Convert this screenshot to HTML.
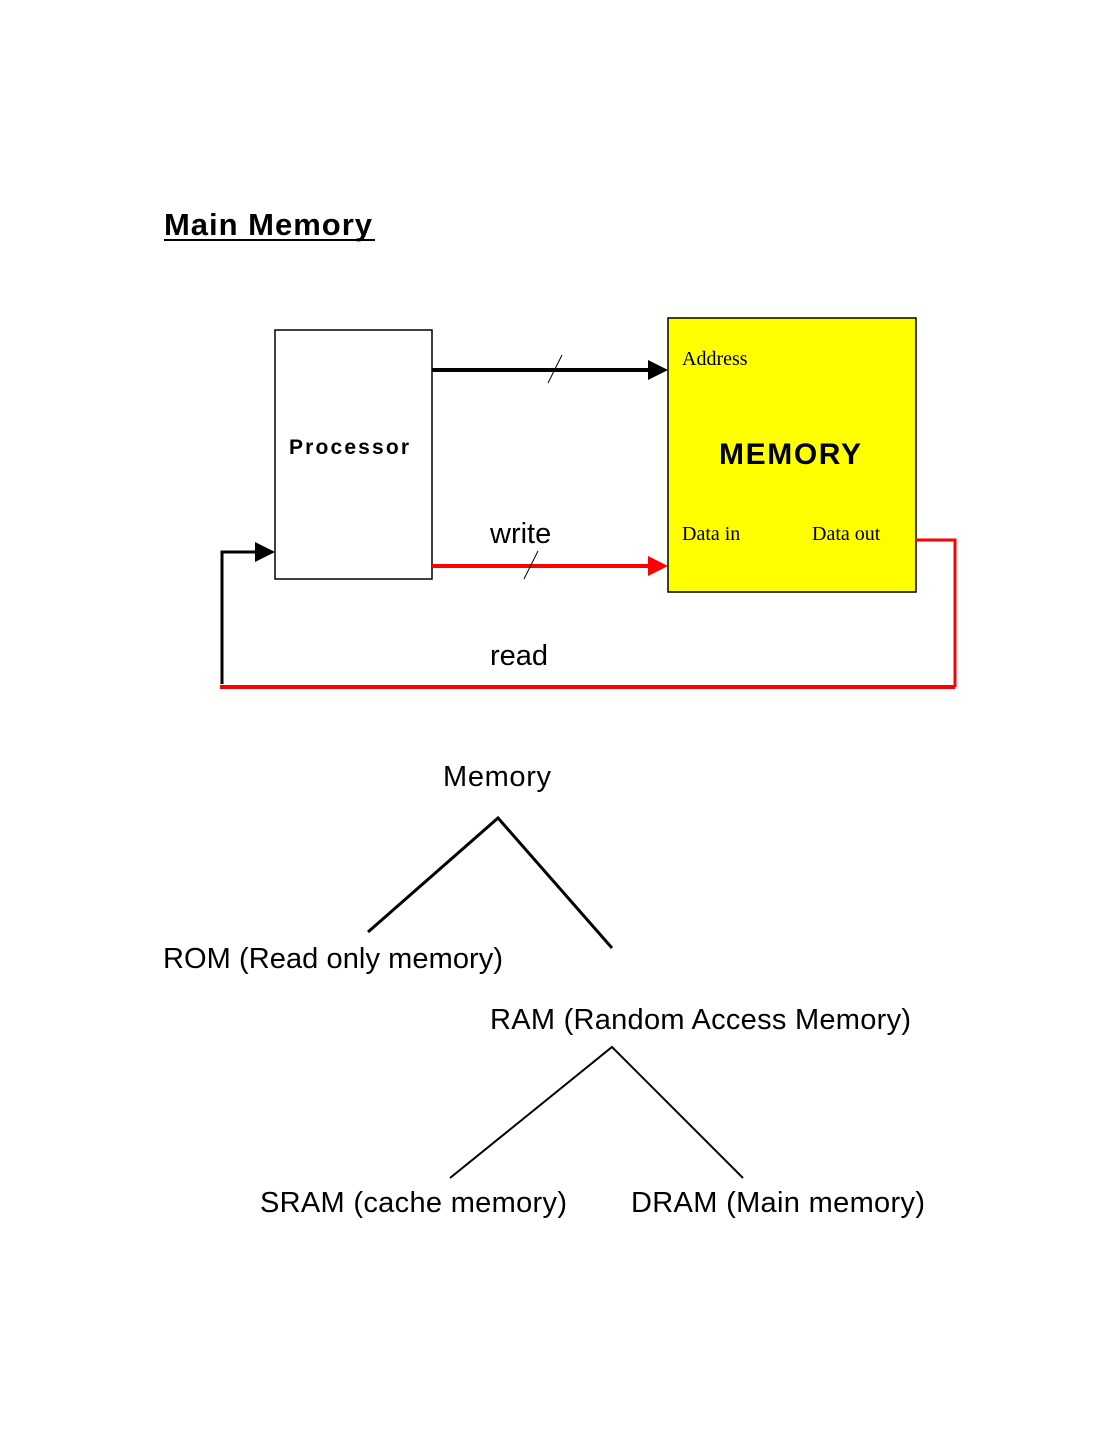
<!DOCTYPE html>
<html><head><style>
body{margin:0;background:#fff;}
svg{display:block}
.c{font-family:"Liberation Sans",sans-serif;font-size:29px;fill:#000}
</style></head><body>
<svg width="1113" height="1440" viewBox="0 0 1113 1440">
<text x="164" y="235" class="c" style="font-weight:bold;font-size:31px" textLength="208">Main Memory</text>
<line x1="164" y1="240" x2="375" y2="240" stroke="#000" stroke-width="2"/>
<rect x="275" y="330" width="157" height="249" fill="#fff" stroke="#000" stroke-width="1.5"/>
<text x="349" y="454" text-anchor="middle" font-family="Liberation Sans" font-weight="bold" font-size="21" textLength="120">Processor</text>
<rect x="668" y="318" width="248" height="274" fill="#ffff00" stroke="#000" stroke-width="1.5"/>
<text x="682" y="365" font-family="Liberation Serif" font-size="20">Address</text>
<text x="790" y="464" text-anchor="middle" font-family="Liberation Sans" font-weight="bold" font-size="30" textLength="142">MEMORY</text>
<text x="682" y="540" font-family="Liberation Serif" font-size="20">Data in</text>
<text x="812" y="540" font-family="Liberation Serif" font-size="20">Data out</text>
<line x1="432" y1="370" x2="650" y2="370" stroke="#000" stroke-width="4"/>
<polygon points="648,360 668,370 648,380" fill="#000"/>
<line x1="548" y1="383" x2="562" y2="355" stroke="#000" stroke-width="1"/>
<line x1="432" y1="566" x2="650" y2="566" stroke="#f00" stroke-width="4"/>
<polygon points="648,556 668,566 648,576" fill="#f00"/>
<line x1="524" y1="579" x2="538" y2="551" stroke="#000" stroke-width="1"/>
<text x="490" y="543" class="c">write</text>
<text x="490" y="665" class="c">read</text>
<polyline points="916,540 955,540 955,687" fill="none" stroke="#f00" stroke-width="3"/>
<line x1="220" y1="687" x2="955" y2="687" stroke="#f00" stroke-width="4"/>
<polyline points="222,684 222,552 257,552" fill="none" stroke="#000" stroke-width="3"/>
<polygon points="255,542 275,552 255,562" fill="#000"/>
<text x="443" y="786" class="c" textLength="108">Memory</text>
<polyline points="368,932 498,818 612,948" fill="none" stroke="#000" stroke-width="3"/>
<text x="163" y="968" class="c" textLength="340">ROM (Read only memory)</text>
<text x="490" y="1029" class="c" textLength="421">RAM (Random Access Memory)</text>
<polyline points="450,1178 612,1047 743,1178" fill="none" stroke="#000" stroke-width="2"/>
<text x="260" y="1212" class="c" textLength="307">SRAM (cache memory)</text>
<text x="631" y="1212" class="c" textLength="294">DRAM (Main memory)</text>
</svg>
</body></html>
